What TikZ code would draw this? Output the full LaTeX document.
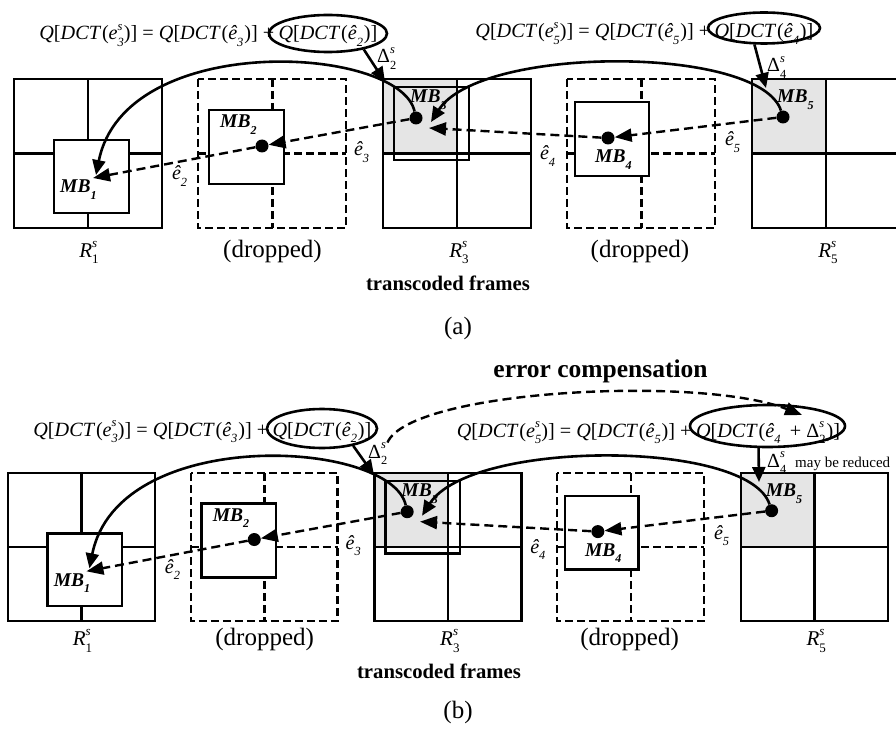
\documentclass[tikz,border=0pt]{standalone}
\usepackage{fontspec}
\setmainfont{Liberation Serif}
\usetikzlibrary{arrows.meta,shapes.geometric}

% script-sized text relative to the current font size
\makeatletter
\newcommand{\scr}[1]{{\fontsize{\strip@pt\dimexpr0.62\dimexpr\f@size pt\relax\relax}{0}\selectfont #1}}
\makeatother
% lowered subscript and stacked superscript / subscript, e.g. R^s_1
\newcommand{\sbs}[1]{\raisebox{-0.32em}{\scr{#1}}}
\newcommand{\supb}[2]{\rlap{\raisebox{0.47em}{\scr{#1}}}\sbs{#2}}
% Q[DCT(...)]
\newcommand{\Qd}[1]{\textit{Q}[\textit{DCT}\kern0.04em(#1)]}
% \hat e with subscript
\newcommand{\hatsub}[1]{\textit{\^e}\sbs{\textit{#1}}\kern0.04em}

\tikzset{
  solidline/.style={line width=2.6pt},
  dropline/.style={line width=2.4pt, dash pattern=on 8pt off 4pt},
  mbbox/.style={draw, line width=2.6pt, fill=white},
  mbgray/.style={fill=black!10},
  dot/.style={circle, fill, inner sep=0pt, minimum size=13pt},
  curvearrow/.style={line width=2.6pt, -{Triangle[length=15pt,width=13pt]}},
  dasharrow/.style={line width=2.4pt, dash pattern=on 9pt off 5pt, -{Triangle[length=17pt,width=13pt]}},
  deltaarrow/.style={line width=2.6pt, -{Triangle[length=15pt,width=13pt]}},
  oval/.style={ellipse, draw, line width=2.6pt, inner sep=0pt},
  mblabel/.style={font=\fontsize{19.5}{20}\selectfont\bfseries\itshape, inner sep=0pt, anchor=base west},
  elabel/.style={font=\fontsize{20}{20}\selectfont, inner sep=0pt},
  framelabel/.style={font=\fontsize{21}{22}\selectfont, inner sep=0pt, anchor=base},
  droplabel/.style={font=\fontsize{25}{26}\selectfont, inner sep=0pt, anchor=base},
  eqlabel/.style={font=\fontsize{20.2}{22}\selectfont, inner sep=0pt},
  dlabel/.style={font=\fontsize{20}{20}\selectfont, inner sep=0pt, anchor=base west},
  boldlabel/.style={font=\fontsize{20.7}{22}\selectfont\bfseries, inner sep=0pt, anchor=base},
  titlelabel/.style={font=\fontsize{25.5}{27}\selectfont\bfseries, inner sep=0pt, anchor=base},
  caption/.style={font=\fontsize{25}{26}\selectfont, inner sep=0pt, anchor=base},
  notelabel/.style={font=\fontsize{15}{16}\selectfont, inner sep=0pt, anchor=base west}
}

% one row of five frames with macroblocks and motion vectors
% #1: name suffix, #2: baseline of the frame captions
\newcommand{\framerow}[2]{%
  \fill[mbgray] (383,79) rectangle (457,153.5);
  \fill[mbgray] (752,79) rectangle (826,153.5);
  % R_1^s
  \draw[solidline] (14,79) rectangle (162,228) (88,79) -- (88,228) (14,153.5) -- (162,153.5);
  \path[mbbox] (54,140) rectangle (129,213);
  % dropped frame
  \draw[dropline] (198,79) rectangle (346,228) (272.5,79) -- (272.5,228) (198,153.5) -- (346,153.5);
  \path[mbbox] (209,110) rectangle (284,184);
  % R_3^s
  \draw[solidline] (383,79) rectangle (531,228) (457,79) -- (457,228) (383,153.5) -- (531,153.5);
  \draw[solidline] (394,87) rectangle (469,160);
  % dropped frame
  \draw[dropline] (567,79) rectangle (715,228) (641.5,79) -- (641.5,228) (567,153.5) -- (715,153.5);
  \path[mbbox] (575,102) rectangle (649,176);
  % R_5^s
  \draw[solidline] (752,79) rectangle (900,228) (826,79) -- (826,228) (752,153.5) -- (900,153.5);
  % macroblock centres
  \node[dot] (d2#1) at (262,146) {};
  \node[dot] (d3#1) at (416,118) {};
  \node[dot] (d4#1) at (608,138) {};
  \node[dot] (d5#1) at (783,117) {};
  \coordinate (t1#1) at (93,178);
  \coordinate (c1#1) at (96,175);
  \coordinate (t3#1) at (429,128);
  \coordinate (c3#1) at (431,122);
  % macroblock names
  \node[mblabel] (mb1#1) at (60,193) {MB\sbs{1}};
  \node[mblabel] (mb2#1) at (220,128) {MB\sbs{2}};
  \node[mblabel] (mb3#1) at (410,103) {MB\sbs{3}};
  \node[mblabel] (mb4#1) at (595,163) {MB\sbs{4}};
  \node[mblabel] (mb5#1) at (777,103) {MB\sbs{5}};
  % motion vectors
  \draw[dasharrow] (d2#1) -- (t1#1);
  \draw[dasharrow] (d3#1) -- (d2#1);
  \draw[dasharrow] (d4#1) -- (t3#1);
  \draw[dasharrow] (d5#1) -- (d4#1);
  \node[elabel] (e2#1) at (180,176) {\hatsub{2}};
  \node[elabel] (e3#1) at (362,152) {\hatsub{3}};
  \node[elabel] (e4#1) at (548,156) {\hatsub{4}};
  \node[elabel] (e5#1) at (733,142) {\hatsub{5}};
  % composed references
  \draw[curvearrow] (d3#1) .. controls (400,45) and (125,30) .. (c1#1);
  \draw[curvearrow] (d5#1) .. controls (760,45) and (480,45) .. (c3#1);
  % frame captions
  \node[framelabel] (r1#1) at (89,#2) {\textit{R}\supb{\textit{s}}{1}};
  \node[droplabel] (x2#1) at (272.5,#2) {(dropped)};
  \node[framelabel] (r3#1) at (459,#2) {\textit{R}\supb{\textit{s}}{3}};
  \node[droplabel] (x4#1) at (640,#2) {(dropped)};
  \node[framelabel] (r5#1) at (828,#2) {\textit{R}\supb{\textit{s}}{5}};
}

\begin{document}
\begin{tikzpicture}[x=1pt,y=-1pt]
\useasboundingbox (0,0) rectangle (896,730);

% ---------- (a) ----------
\framerow{a}{257}
\node[eqlabel, anchor=base] (qa1) at (328,40) {\Qd{\hatsub{2}}};
\node[eqlabel, anchor=base east] (eqa1) at ([xshift=-4pt]qa1.base west)
  {\Qd{\textit{e}\supb{\textit{s}}{\textit{3}}} = \Qd{\hatsub{3}} +};
\node[eqlabel, anchor=base] (qa2) at (764,38) {\Qd{\hatsub{4}}};
\node[eqlabel, anchor=base east] (eqa2) at ([xshift=-4pt]qa2.base west)
  {\Qd{\textit{e}\supb{\textit{s}}{\textit{5}}} = \Qd{\hatsub{5}} +};
\node[oval, minimum width=118pt, minimum height=37pt] (ova1) at (328,33.5) {};
\node[oval, minimum width=112pt, minimum height=31pt] (ova2) at (764,28) {};
\coordinate (da1) at (385,82);
\coordinate (da2) at (766,88);
\draw[deltaarrow] (ova1.-24) -- (da1);
\draw[deltaarrow] (ova2.-120) -- (da2);
\node[dlabel] (dela2) at (377,63) {Δ\supb{\textit{s}}{2}};
\node[dlabel] (dela4) at (767,72) {Δ\supb{\textit{s}}{4}};
\node[boldlabel] (tfa) at (448,290) {transcoded frames};
\node[caption] (capa) at (458,334) {(a)};

% ---------- (b) ----------
\begin{scope}[shift={(8,473)}, scale=0.993, shift={(-14,-79)}]
  \framerow{b}{253}
\end{scope}
\node[eqlabel, anchor=base] (qb1) at (322,436) {\Qd{\hatsub{2}}};
\node[eqlabel, anchor=base east] (eqb1) at ([xshift=-4pt]qb1.base west)
  {\Qd{\textit{e}\supb{\textit{s}}{\textit{3}}} = \Qd{\hatsub{3}} +};
\node[eqlabel, anchor=base] (qb2) at (768,437)
  {\Qd{\hatsub{4}\, + Δ\supb{\textit{s}}{2}\kern0.05em}};
\node[eqlabel, anchor=base east] (eqb2) at ([xshift=-4pt]qb2.base west)
  {\Qd{\textit{e}\supb{\textit{s}}{\textit{5}}} = \Qd{\hatsub{5}} +};
\node[oval, minimum width=110pt, minimum height=39pt] (ovb1) at (322,428.5) {};
\node[oval, minimum width=155pt, minimum height=42pt] (ovb2) at (767.5,426) {};
\coordinate (db1) at (374,475);
\draw[deltaarrow] (ovb1.-29) -- (db1);
\node[dlabel] (delb2) at (368,458) {Δ\supb{\textit{s}}{2}};
\coordinate (ce) at (802,415);
\draw[dasharrow] (delb2.north east) .. controls (410,390) and (700,375) .. (ce);
\node[titlelabel] (ecomp) at (600.5,377) {error compensation};
\coordinate (db2) at (759,482);
\draw[deltaarrow] (ovb2.-112) -- (db2);
\node[dlabel] (delb4) at (767,467) {Δ\supb{\textit{s}}{4}};
\node[notelabel] (red) at (795,467) {may be reduced};
\node[boldlabel] (tfb) at (439,678) {transcoded frames};
\node[caption] (capb) at (458,718) {(b)};
\end{tikzpicture}
\end{document}
